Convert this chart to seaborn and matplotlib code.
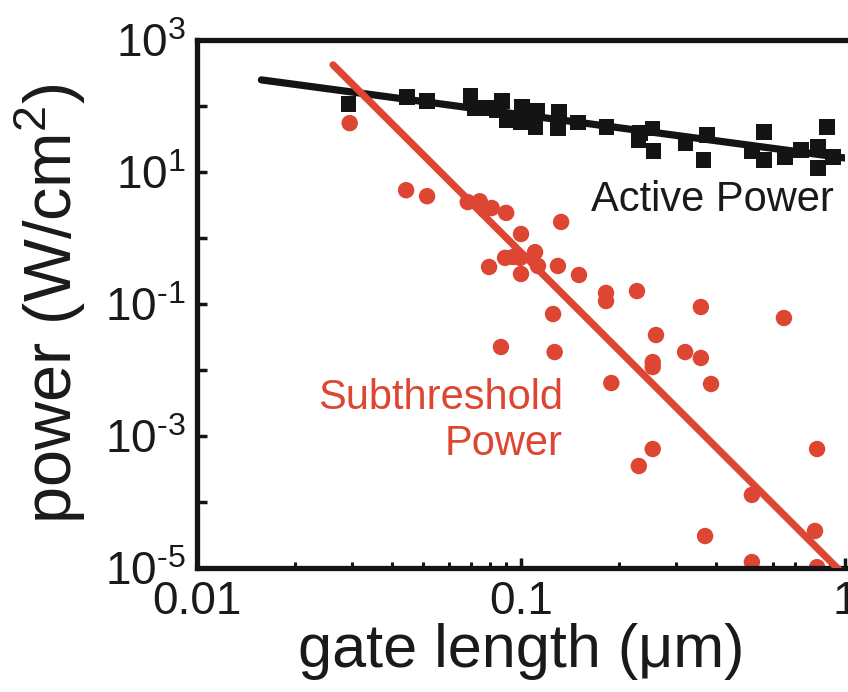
import numpy as np
import pandas as pd
import seaborn as sns
import matplotlib.pyplot as plt
from matplotlib.ticker import FixedLocator, LogLocator, NullFormatter, NullLocator

#%% data
# active power (black squares)
active_len = [0.0294, 0.0445, 0.0513, 0.0697, 0.0721, 0.0785, 0.0843, 0.0874, 0.0905,
              0.1007, 0.100, 0.112, 0.111, 0.131, 0.130, 0.150, 0.184, 0.233, 0.230,
              0.255, 0.257, 0.321, 0.365, 0.375, 0.516, 0.562, 0.562, 0.653, 0.731,
              0.826, 0.880, 0.826, 0.918]
active_pow = [107, 137, 119, 142, 93, 93, 87, 119, 61,
              97, 57, 84, 48, 81, 45, 57, 48, 39, 30.5,
              46, 20.8, 27.5, 15.2, 36.4, 20.8, 40.4, 15.2, 16.9, 21.5,
              23.9, 48, 11.5, 16.9]

# subthreshold power (red circles)
sub_len = [0.0296, 0.0442, 0.0513, 0.0685, 0.0746, 0.0812, 0.0774, 0.090, 0.133,
           0.100, 0.1105, 0.0893, 0.0945, 0.0994, 0.0797, 0.100, 0.1128, 0.130,
           0.151, 0.183, 0.183, 0.228, 0.1256, 0.359, 0.648, 0.0867, 0.127,
           0.261, 0.321, 0.359, 0.255, 0.255, 0.190, 0.386, 0.255, 0.231,
           0.820, 0.516, 0.370, 0.808, 0.516, 0.820]
sub_pow = [55, 5.3, 4.3, 3.5, 3.6, 2.85, 2.66, 2.4, 1.75,
           1.15, 0.61, 0.50, 0.515, 0.50, 0.364, 0.285, 0.377, 0.377,
           0.275, 0.147, 0.111, 0.157, 0.0705, 0.090, 0.0614, 0.0223, 0.0187,
           0.0339, 0.0187, 0.0152, 0.0132, 0.0111, 0.00635, 0.00614, 6.35e-4, 3.51e-4,
           6.35e-4, 1.28e-4, 3.05e-5, 3.64e-5, 1.23e-5, 1.03e-5]

# power-law fits  P = a * L^b
active_fit = dict(a=16.3, b=-0.657, lmin=0.0158, lmax=1.0)
sub_fit = dict(a=7.6e-6, b=-4.9, lmin=0.0263, lmax=1.0)

ytick_vals = [1e-5, 1e-4, 1e-3, 1e-2, 1e-1, 1e0, 1e1, 1e2, 1e3]

red = '#dc4632'
blk = '#141414'

#%% style
sns.set_theme(style='ticks')
plt.rcParams['font.family'] = ['Liberation Sans', 'DejaVu Sans']
plt.rcParams['mathtext.fontset'] = 'custom'
plt.rcParams['mathtext.rm'] = 'Liberation Sans'
plt.rcParams['mathtext.default'] = 'regular'
plt.rcParams['axes.unicode_minus'] = False

df_act = pd.DataFrame({'L': active_len, 'P': active_pow})
df_sub = pd.DataFrame({'L': sub_len, 'P': sub_pow})

def fit_df(f):
    L = np.array([f['lmin'], f['lmax']])
    return pd.DataFrame({'L': L, 'P': f['a'] * L ** f['b']})

fig = plt.figure(figsize=(8.48, 6.92), dpi=100)
ax = fig.add_axes([197/848, 124/692, 648/848, 528/692])
ax.set_xscale('log')
ax.set_yscale('log')

sns.lineplot(data=fit_df(active_fit), x='L', y='P', ax=ax, color=blk, lw=5.2, zorder=3)
sns.scatterplot(data=df_act, x='L', y='P', ax=ax, marker='s', s=120, color=blk,
                edgecolor='none', linewidth=0, zorder=2)
sns.lineplot(data=fit_df(sub_fit), x='L', y='P', ax=ax, color=red, lw=5.2, zorder=3)
sns.scatterplot(data=df_sub, x='L', y='P', ax=ax, marker='o', s=140, color=red,
                edgecolor='none', linewidth=0, zorder=2)

ax.set_xlim(0.01, 1)
ax.set_ylim(1e-5, 1e3)

# ticks
ax.xaxis.set_major_locator(FixedLocator([0.01, 0.1, 1]))
ax.xaxis.set_minor_locator(LogLocator(base=10, subs=np.arange(2, 10)))
ax.xaxis.set_minor_formatter(NullFormatter())
ax.set_xticklabels(['0.01', '0.1', '1'])
ax.yaxis.set_major_locator(FixedLocator(ytick_vals))
ax.yaxis.set_minor_locator(NullLocator())
ylabs = []
for v in ytick_vals:
    e = int(round(np.log10(v)))
    if e % 2 == 0:
        ylabs.append('')
    elif e < 0:
        ylabs.append(r'$10^{\text{-}%d}$' % abs(e))
    else:
        ylabs.append(r'$10^{%d}$' % e)
ax.set_yticklabels(ylabs)

ax.tick_params(axis='both', which='major', direction='in', length=7, width=2.5,
               labelsize=33, color=blk, labelcolor='#1a1a1a')
ax.tick_params(axis='x', which='minor', direction='in', length=4, width=2.2, color=blk)
ax.tick_params(axis='y', which='major', pad=8)
ax.tick_params(axis='x', which='major', pad=9)

for s in ['left', 'bottom', 'top']:
    ax.spines[s].set_linewidth(3.8)
    ax.spines[s].set_color(blk)
ax.spines['right'].set_visible(False)

ax.set_xlabel('gate length (\u03bcm)', fontsize=44, color='#1a1a1a')
ax.set_ylabel('power (W/cm$^2$)', fontsize=48, color='#1a1a1a')
ax.xaxis.set_label_coords(0.5, -0.105)
ax.yaxis.set_label_coords(-0.168, 0.5)

ax.text(0.795, 0.697, 'Active Power', transform=ax.transAxes, fontsize=30,
        color='#1a1a1a', ha='center', va='center')
ax.text(0.565, 0.278, 'Subthreshold\nPower', transform=ax.transAxes, fontsize=30,
        color=red, ha='right', va='center', linespacing=1.2)

fig.savefig('out.png', dpi=100)
